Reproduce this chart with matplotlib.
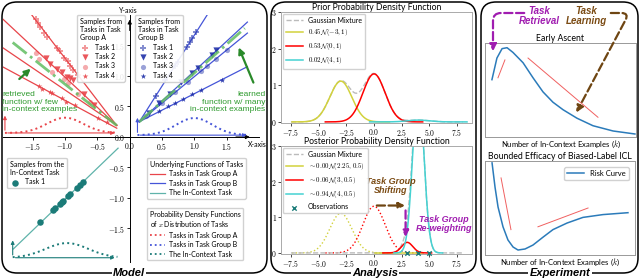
import numpy as np
import matplotlib.pyplot as plt
from matplotlib.patches import FancyBboxPatch, FancyArrowPatch
from matplotlib.lines import Line2D
from matplotlib.ticker import FuncFormatter

plt.rcParams['mathtext.fontset'] = 'cm'
plt.rcParams['font.family'] = ['Lato', 'DejaVu Sans']

W, H = 640, 278

# ---------------- Model panel data ----------------
# underlying linear functions y = w*x + b
a_slope = [-1.38, -0.99, -0.72, -0.57]
a_icpt = [-0.09, -0.01, 0.05, 0.03]
b_slope = [1.67, 0.98, 0.87, 0.54]
b_icpt = [0.0, 0.10, 0.12, 0.17]
a_xrange = [-1.96, -0.2]
b_xrange = [0.15, 1.82]
retrieved = (-0.845, 0.02, [-1.81, -0.2])
learned = (0.94, 0.11, [0.15, 1.78])
ctx_line = (1.02, 0.0, [-1.80, -0.18])

# samples, group A
a1_x = [-1.45, -1.42, -1.39, -1.33, -1.28, -1.13, -1.08, -1.01, -0.96, -0.93, -0.87, -0.80]
a1_y = [1.93, 1.87, 1.80, 1.70, 1.64, 1.46, 1.41, 1.30, 1.25, 1.16, 1.10, 1.02]
a2_x = [-1.30, -1.24, -1.12, -1.05, -0.97, -0.93, -0.88, -0.70, -0.55]
a2_y = [1.30, 1.20, 1.12, 1.07, 0.98, 0.97, 0.93, 0.70, 0.52]
a3_x = [-1.45, -1.40, -1.20, -1.02, -0.95, -0.80, -0.62]
a3_y = [1.37, 1.28, 1.06, 0.95, 0.88, 0.71, 0.58]
a4_x = [-1.40, -1.36, -1.24, -1.20, -1.05, -0.98, -0.85, -0.49, -0.35]
a4_y = [0.84, 0.79, 0.74, 0.72, 0.64, 0.57, 0.52, 0.31, 0.24]
# samples, group B
b1_x = [0.40, 0.55, 0.70, 0.74, 0.88, 0.93, 0.97, 1.02]
b1_y = [0.68, 0.93, 1.16, 1.23, 1.47, 1.56, 1.62, 1.72]
b2_x = [0.30, 0.45, 0.62, 0.80, 0.96, 1.05, 1.27, 1.34]
b2_y = [0.40, 0.55, 0.71, 0.90, 1.05, 1.13, 1.35, 1.42]
b3_x = [0.25, 0.50, 0.70, 0.90, 1.11, 1.20, 1.34, 1.50]
b3_y = [0.34, 0.55, 0.73, 0.90, 1.08, 1.16, 1.28, 1.42]
b4_x = [0.45, 0.60, 0.70, 0.82, 0.97, 1.10, 1.42]
b4_y = [0.42, 0.50, 0.55, 0.62, 0.70, 0.77, 0.93]
# samples, in-context task
c_x = [-1.38, -1.18, -1.15, -1.08, -1.05, -1.03, -0.95, -0.92, -0.82, -0.77, -0.72]
c_y = [-1.40, -1.19, -1.17, -1.10, -1.07, -1.05, -0.97, -0.93, -0.84, -0.79, -0.74]

# x-distribution bumps: (mean, sd, baseline, height, x from, x to)
pdf_a = (-1.0, 0.28, 0.066, 0.25, -1.93, -0.19)
pdf_b = (1.0, 0.28, 0.03, 0.28, 0.12, 1.85)
pdf_c = (-0.97, 0.33, -1.98, 0.24, -1.81, -0.19)

# ---------------- Analysis panel data ----------------
prior_w = [0.45, 0.53, 0.02]
prior_mu = [-3.0, 0.0, 4.0]
prior_sd = [1.0, 1.0, 1.0]
post_w = [0.00, 0.06, 0.94]
post_mu = [2.25, 3.0, 4.0]
post_sd = [0.5, 0.5, 0.5]
obs_x = [3.0, 4.0, 5.0]
dens_scale = 6.2

# ---------------- Experiment panel data ----------------
early_k = [4.6, 7.9, 11.3, 14.6, 18.5, 25.2, 31.8, 38.4, 45.0, 51.7, 60.9, 71.5, 84.8, 99.3]
early_r = [0.61, 0.84, 0.94, 0.95, 0.90, 0.79, 0.63, 0.48, 0.37, 0.29, 0.20, 0.12, 0.064, 0.032]
early_trend = [([8.6, 13.2], [0.63, 0.82]), ([28.5, 74.8], [0.84, 0.21])]
bound_k = [4.7, 6.7, 8.7, 12.0, 15.3, 18.7, 22.0, 26.7, 32.0, 38.7, 45.3, 54.7, 65.3, 78.7, 95.3]
bound_r = [0.98, 0.72, 0.51, 0.30, 0.16, 0.085, 0.053, 0.064, 0.106, 0.19, 0.27, 0.34, 0.40, 0.43, 0.45]
bound_trend = [([10.7, 17.3], [0.82, 0.27]), ([35.3, 68.7], [0.30, 0.50])]

RED = '#e8454a'
BLUE = '#4555d8'
TEAL = '#1b7b78'
TEAL_L = '#5fb3aa'
GREEN = '#2e9a2e'
BROWN = '#6e4512'
PURPLE = '#a01db0'
YEL = '#d2d23c'
CYAN = '#45d2d2'
BOLDIT = dict(family=['Liberation Sans', 'DejaVu Sans'], fontweight='bold', fontstyle='italic')


def rect(x0, y0, x1, y1):
    return [x0 / W, 1 - y1 / H, (x1 - x0) / W, (y1 - y0) / H]


def gauss(x, mu, sd):
    return np.exp(-0.5 * ((x - mu) / sd) ** 2) / (sd * np.sqrt(2 * np.pi))


fig = plt.figure(figsize=(6.4, 2.78), dpi=100)

# panel frames
for x0, x1 in [(2, 267), (271, 476), (481, 638)]:
    fig.add_artist(FancyBboxPatch((x0 / 100, 0.05), (x1 - x0) / 100, 2.71,
                                  boxstyle='round,pad=0,rounding_size=0.15',
                                  transform=fig.dpi_scale_trans, fill=False,
                                  ec='black', lw=1.1, zorder=0))

# ================= Model =================
ax = fig.add_axes(rect(3, 15, 259, 262))
ax.patch.set_visible(False)
ax.set_xlim(-1.96, 2.0)
ax.set_ylim(-2.05, 2.0)
for s in ['top', 'right']:
    ax.spines[s].set_visible(False)
ax.spines['left'].set_position(('data', 0))
ax.spines['bottom'].set_position(('data', 0))
for s in ['left', 'bottom']:
    ax.spines[s].set_linewidth(0.7)
ax.set_xticks([-1.5, -1.0, -0.5, 0.0, 0.5, 1.0, 1.5])
ax.set_yticks([-1.5, -1.0, -0.5, 0.0, 0.5, 1.0, 1.5])
fmt = FuncFormatter(lambda v, p: f'${v:.1f}$')
ax.xaxis.set_major_formatter(fmt)
ax.yaxis.set_major_formatter(fmt)
ax.tick_params(length=2, width=0.6, labelsize=5.5, pad=1)
ax.annotate('', xy=(0, 1.97), xytext=(0, 1.7),
            arrowprops=dict(arrowstyle='-|>', color='black', lw=0.7, mutation_scale=6))
ax.annotate('', xy=(1.9, 0), xytext=(1.6, 0),
            arrowprops=dict(arrowstyle='-|>', color='black', lw=0.7, mutation_scale=6))
ax.text(-0.02, 2.08, 'Y-axis', fontsize=5, ha='center', va='center')
ax.text(1.97, -0.13, 'X-axis', fontsize=5, ha='center', va='center')

xa = np.array(a_xrange)
for w, b in zip(a_slope, a_icpt):
    ax.plot(xa, w * xa + b, color=RED, lw=0.9)
xb = np.array(b_xrange)
for w, b in zip(b_slope, b_icpt):
    ax.plot(xb, w * xb + b, color=BLUE, lw=0.9)
for (w, b, xr) in [retrieved, learned]:
    xr = np.array(xr)
    ax.plot(xr, w * xr + b, color='#62bd62', lw=2.0, ls='-.', alpha=0.85, zorder=4)
xc = np.array(ctx_line[2])
ax.plot(xc, ctx_line[0] * xc + ctx_line[1], color=TEAL_L, lw=0.9)

mk = [('P', 14, 0.55), ('v', 20, 0.9), ('o', 14, 0.45), ('*', 18, 0.9)]
a_pts = [(a1_x, a1_y), (a2_x, a2_y), (a3_x, a3_y), (a4_x, a4_y)]
b_pts = [(b1_x, b1_y), (b2_x, b2_y), (b3_x, b3_y), (b4_x, b4_y)]
ha_a, ha_b = [], []
for i, ((m, s, al), (px, py)) in enumerate(zip(mk, a_pts)):
    h = ax.scatter(px, py, marker=m, s=s, color=RED, alpha=al, lw=0, zorder=3,
                   label=f'Task {i + 1}')
    ha_a.append(h)
for i, ((m, s, al), (px, py)) in enumerate(zip(mk, b_pts)):
    h = ax.scatter(px, py, marker=m, s=s, color='#1f2fa8', alpha=al, lw=0, zorder=3,
                   label=f'Task {i + 1}')
    ha_b.append(h)
hc = ax.scatter(c_x, c_y, s=22, color=TEAL, zorder=3, lw=0, label='Task 1')

for (mu, sd, base, hgt, x0, x1), col in [(pdf_a, RED), (pdf_b, BLUE), (pdf_c, TEAL)]:
    xs = np.linspace(x0, x1, 120)
    ax.plot(xs, base + hgt * np.exp(-0.5 * ((xs - mu) / sd) ** 2), ls=':', color=col, lw=1.4)
    ax.annotate('', xy=(x1, base), xytext=(x0, base),
                arrowprops=dict(arrowstyle='-|>', color=col, lw=0.8, mutation_scale=5))
    ax.annotate('', xy=(x0, base + 0.33), xytext=(x0, base),
                arrowprops=dict(arrowstyle='-|>', color=col, lw=0.8, mutation_scale=5))

ax.text(-1.97, 0.57, 'retrieved\nfunction w/ few\nin-context examples', color=GREEN,
        fontsize=6, ha='left', va='center', linespacing=1.05,
        family=['Liberation Sans', 'DejaVu Sans'])
ax.text(2.1, 0.57, 'learned\nfunction w/ many\nin-context examples', color=GREEN,
        fontsize=6, ha='right', va='center', linespacing=1.05, multialignment='right',
        family=['Liberation Sans', 'DejaVu Sans'])
ax.annotate('', xy=(-1.50, 1.15), xytext=(-1.74, 0.92),
            arrowprops=dict(arrowstyle='-|>', color='#2a8a2a', lw=1.6, mutation_scale=9))
ax.annotate('', xy=(1.67, 1.51), xytext=(1.93, 0.85),
            arrowprops=dict(arrowstyle='-|>', color='#2a8a2a', lw=1.6, mutation_scale=9))

leg_kw = dict(fontsize=5, title_fontsize=5, alignment='left', borderaxespad=0,
              handletextpad=0.6, labelspacing=0.35, borderpad=0.4, framealpha=0.9,
              edgecolor='#cccccc')
fig.legend(handles=ha_a, title='Samples from\nTasks in Task\nGroup A', loc='upper left',
           bbox_to_anchor=(77 / W, 1 - 15 / H), handlelength=1.6, **leg_kw)
fig.legend(handles=ha_b, title='Samples from\nTasks in Task\nGroup B', loc='upper left',
           bbox_to_anchor=(135 / W, 1 - 15 / H), handlelength=1.6, **leg_kw)
fig.legend(handles=[hc], title='Samples from the\nIn-Context Task', loc='upper left',
           bbox_to_anchor=(7 / W, 1 - 158 / H), handlelength=1.6, **leg_kw)
fn_h = [Line2D([], [], color=RED, lw=0.9), Line2D([], [], color=BLUE, lw=0.9),
        Line2D([], [], color=TEAL_L, lw=0.9)]
fn_l = ['Tasks in Task Group A', 'Tasks in Task Group B', 'The In-Context Task']
fig.legend(fn_h, fn_l, title='Underlying Functions of Tasks', loc='upper left',
           bbox_to_anchor=(147 / W, 1 - 158 / H), handlelength=2.2, **leg_kw)
pd_h = [Line2D([], [], color=c, lw=1.3, ls=':') for c in [RED, BLUE, TEAL]]
fig.legend(pd_h, fn_l, title='Probability Density Functions\nof $x$ Distribution of Tasks',
           loc='upper left', bbox_to_anchor=(147 / W, 1 - 208 / H), handlelength=2.2, **leg_kw)

# ================= Analysis =================
def style_density_axes(a):
    a.set_xlim(-8.4, 8.85)
    a.set_ylim(-0.03, 3.0)
    a.set_xticks([-7.5, -5.0, -2.5, 0.0, 2.5, 5.0, 7.5])
    a.set_yticks([0, 1, 2, 3])
    a.xaxis.set_major_formatter(FuncFormatter(lambda v, p: f'${v:.1f}$'))
    a.yaxis.set_major_formatter(FuncFormatter(lambda v, p: f'${v:.0f}$'))
    a.tick_params(length=2, width=0.5, labelsize=5.5, pad=1, colors='black')
    for s in a.spines.values():
        s.set_color('#aaaaaa')
        s.set_linewidth(0.7)


cols = [YEL, 'red', CYAN]
axp = fig.add_axes(rect(281, 12, 472, 123))
style_density_axes(axp)
axp.set_title('Prior Probability Density Function', fontsize=6.2, pad=1.2)
xg = np.linspace(-7.5, 8.0, 400)
mix = sum(w * gauss(xg, m, s) for w, m, s in zip(prior_w, prior_mu, prior_sd)) * dens_scale
axp.plot(xg, mix, color='#bbbbbb', ls='--', lw=1.0)
ph = [Line2D([], [], color='#bbbbbb', ls='--', lw=1.0)]
pl = ['Gaussian Mixture']
for w, m, s, c in zip(prior_w, prior_mu, prior_sd, cols):
    xs = np.linspace(max(m - 4.4 * s, -7.5), m + 4.4 * s, 200)
    ln, = axp.plot(xs, w * gauss(xs, m, s) * dens_scale, color=c, lw=1.1)
    ph.append(ln)
    pl.append(f'${w:.2f}\\mathcal{{N}}({m:g},{s:g})$')
axp.legend(ph, pl, loc='upper left', fontsize=5, handlelength=2.4, borderaxespad=0.3,
           labelspacing=0.45, framealpha=0.9, edgecolor='#cccccc')

axq = fig.add_axes(rect(281, 146, 472, 254))
style_density_axes(axq)
axq.set_title('Posterior Probability Density Function', fontsize=6.2, pad=1.2)
for w, m, s, c in zip(prior_w[:2], prior_mu[:2], prior_sd[:2], cols[:2]):
    xs = np.linspace(max(m - 4.4 * s, -7.5), m + 4.4 * s, 200)
    axq.plot(xs, w * gauss(xs, m, s) * dens_scale, color=c, lw=1.0, ls=':')
pmix = sum(w * gauss(xg, m, s) for w, m, s in zip(post_w, post_mu, post_sd)) * dens_scale
axq.plot(xg, pmix, color='#bbbbbb', ls='--', lw=1.0)
qh = [Line2D([], [], color='#bbbbbb', ls='--', lw=1.0)]
ql = ['Gaussian Mixture']
for w, m, s, c in zip(post_w, post_mu, post_sd, cols):
    xs = np.linspace(m - 4.4 * s, m + 4.4 * s, 200)
    ln, = axq.plot(xs, w * gauss(xs, m, s) * dens_scale, color=c, lw=1.1)
    qh.append(ln)
    ql.append(f'$\\sim{w:.2f}\\mathcal{{N}}({m:g},{s:g})$')
ob = axq.scatter(obs_x, np.zeros(len(obs_x)), marker='x', s=10, color=TEAL, lw=1.0,
                 zorder=5, clip_on=False)
qh.append(ob)
ql.append('Observations')
axq.legend(qh, ql, loc='upper left', fontsize=5, handlelength=2.4, borderaxespad=0.3,
           labelspacing=0.45, framealpha=0.9, edgecolor='#cccccc')

axq.text(1.5, 1.87, 'Task Group\nShifting', color='#7a4a12', fontsize=6.5, ha='center',
         va='center', linespacing=1.05, **BOLDIT)
axq.annotate('', xy=(3.05, 1.33), xytext=(0.0, 1.33),
             arrowprops=dict(arrowstyle='-|>', color=BROWN, lw=1.6, ls='--', mutation_scale=9))
axq.annotate('', xy=(2.85, 0.37), xytext=(2.85, 1.27),
             arrowprops=dict(arrowstyle='-|>', color=PURPLE, lw=1.6, ls='--', mutation_scale=9))
axq.text(6.3, 0.82, 'Task Group\nRe-weighting', color=PURPLE, fontsize=6.5, ha='center',
         va='center', linespacing=1.05, **BOLDIT)

# ================= Experiment =================
for r, title, kk, rr, trends in [
        (rect(485, 43, 636, 137), 'Early Ascent', early_k, early_r, early_trend),
        (rect(485, 161, 635, 255), 'Bounded Efficacy of Biased-Label ICL', bound_k, bound_r,
         bound_trend)]:
    ae = fig.add_axes(r)
    ae.set_xlim(0, 100)
    ae.set_ylim(0, 1)
    ae.set_xticks([])
    ae.set_yticks([])
    for s in ae.spines.values():
        s.set_color('#999999')
        s.set_linewidth(0.7)
    ae.set_title(title, fontsize=6.3, pad=1.5)
    ae.set_xlabel('Number of In-Context Examples ($k$)', fontsize=5.5, labelpad=1)
    rc, = ae.plot(kk, rr, color='#2b7bba', lw=1.1, label='Risk Curve')
    for tx, ty in trends:
        ae.plot(tx, ty, color='#f06060', lw=0.7)
    if title.startswith('Bounded'):
        ae.legend(loc='upper right', fontsize=5.5, handlelength=2.2, borderaxespad=0.8,
                  framealpha=0.9, edgecolor='#cccccc')

fig.text(539 / W, 1 - 16 / H, 'Task\nRetrieval', color=PURPLE, fontsize=7, ha='center',
         va='center', linespacing=1.0, **BOLDIT)
fig.text(586 / W, 1 - 16 / H, 'Task\nLearning', color='#7a4a12', fontsize=7, ha='center',
         va='center', linespacing=1.0, **BOLDIT)
fig.add_artist(FancyArrowPatch((5.27, 2.65), (4.93, 2.24), transform=fig.dpi_scale_trans,
                               connectionstyle='angle,angleA=180,angleB=90,rad=8',
                               arrowstyle='-|>', mutation_scale=10, color=PURPLE,
                               lw=1.6, ls='--'))
fig.add_artist(FancyArrowPatch((6.08, 2.65), (5.75, 1.63), transform=fig.dpi_scale_trans,
                               connectionstyle='angle,angleA=0,angleB=62,rad=8',
                               arrowstyle='-|>', mutation_scale=10, color=BROWN,
                               lw=1.6, ls='--'))

# panel labels on the frames
for xc_, name in [(129, 'Model'), (375, 'Analysis'), (560, 'Experiment')]:
    fig.text(xc_ / W, 1 - 273 / H, name, fontsize=8, ha='center', va='center',
             bbox=dict(fc='white', ec='none', pad=1.0), **BOLDIT)

fig.savefig('out.png', dpi=100)
